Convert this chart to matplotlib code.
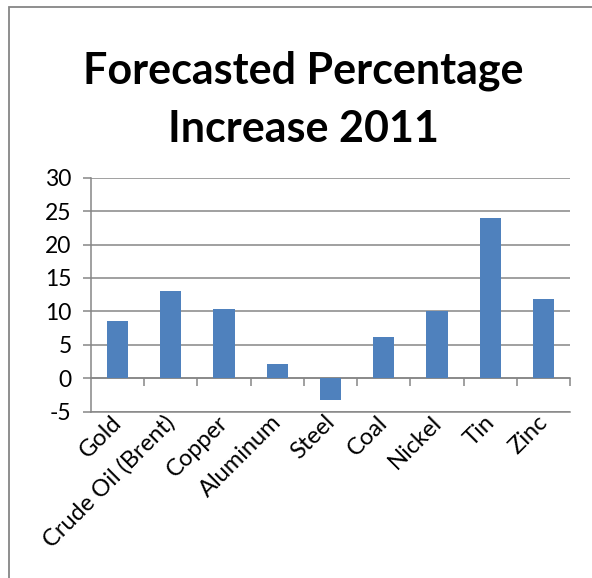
import matplotlib.pyplot as plt
import matplotlib.transforms as mtransforms
from matplotlib.patches import Rectangle

# Datos del gráfico
materias = ["Gold", "Crude Oil (Brent)", "Copper", "Aluminum", "Steel",
            "Coal", "Nickel", "Tin", "Zinc"]
incremento = [8.5, 13.0, 10.3, 2.1, -3.2, 6.2, 10.1, 24.0, 11.8]
marcas_y = [-5, 0, 5, 10, 15, 20, 25, 30]

gris = "#868686"
azul = "#4F81BD"
fuente = "Lato"

fig = plt.figure(figsize=(5.92, 5.78), dpi=100)
ax = fig.add_axes([0.1537, 0.2877, 0.8091, 0.4049])

posiciones = list(range(len(materias)))
ax.bar(posiciones, incremento, width=0.4, color=azul, zorder=3)

ax.set_xlim(-0.5, len(materias) - 0.5)
ax.set_ylim(-5, 30)
ax.set_yticks(marcas_y)
ax.set_yticklabels([str(v) for v in marcas_y], fontsize=16.5, family=fuente)
ax.yaxis.grid(True, color=gris, linewidth=1.1, zorder=0)
ax.tick_params(axis="y", length=6, width=1.1, color=gris, pad=8)

# Etiquetas de categorías abajo (en -5)
ax.set_xticks(posiciones)
ax.set_xticklabels(materias, rotation=45, ha="right", fontsize=17, family=fuente)
ax.tick_params(axis="x", length=0, pad=0)
desplazamiento = mtransforms.ScaledTranslation(6 / 72, 0, fig.dpi_scale_trans)
for etiqueta in ax.get_xticklabels():
    etiqueta.set_transform(etiqueta.get_transform() + desplazamiento)

for lado in ["top", "right"]:
    ax.spines[lado].set_visible(False)
ax.spines["left"].set_color(gris)
ax.spines["left"].set_linewidth(1.1)
ax.spines["bottom"].set_color(gris)
ax.spines["bottom"].set_linewidth(1.1)

# Eje horizontal en cero con marcas entre categorías
eje_cero = ax.secondary_xaxis(0, transform=ax.transData)
eje_cero.set_xticks([p + 0.5 for p in posiciones])
eje_cero.set_xticklabels([])
eje_cero.tick_params(axis="x", direction="out", length=6, width=1.1, color=gris)
eje_cero.spines["bottom"].set_color(gris)
eje_cero.spines["bottom"].set_linewidth(1.1)

# Título
fig.text(0.513, 0.827, "Forecasted Percentage\nIncrease 2011", ha="center",
         va="center", fontsize=31, fontweight="bold", family=fuente,
         linespacing=1.55)

# Marco del gráfico (solo se ven los bordes izquierdo y superior)
fig.patches.append(Rectangle((9 / 592, -0.1), 2, 1 - 7 / 578 + 0.1,
                             transform=fig.transFigure, fill=False,
                             edgecolor=gris, linewidth=1.3))

fig.savefig("out.png", dpi=100)
